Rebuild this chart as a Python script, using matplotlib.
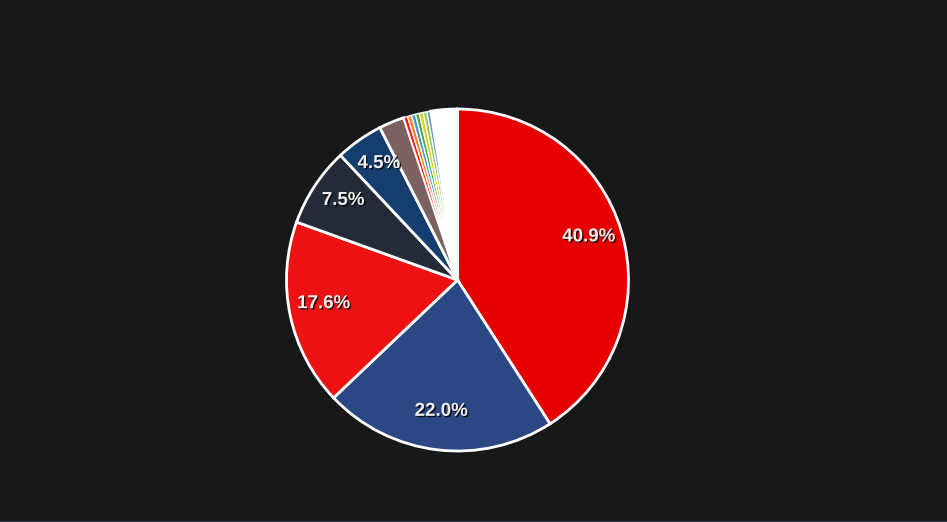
import matplotlib
matplotlib.use("Agg")
from matplotlib import pyplot as plt
from matplotlib import patheffects as pe
from matplotlib.lines import Line2D

# slice shares (%), clockwise from the top
shares = [40.9, 22.0, 17.6, 7.5, 4.5, 2.4, 0.38, 0.38, 0.38, 0.37, 0.37, 0.36, 0.36, 2.5]
colors = ['#e60000', '#2b4884', '#ee1111', '#242b38', '#153e6f', '#7b615f',
          '#ff1a1a', '#ff7f0e', '#4a90d9', '#3fae49', '#e8c81a', '#8fcf5a', '#5d8fdc', '#ffffff']

R_PX = 171


def pct_label(p):
    return f"{p:.1f}%" if p > 4 else ""


def main():
    fig = plt.figure(figsize=(9.47, 5.22), dpi=100, facecolor='#17181a')
    ax = fig.add_axes([(457.5 - R_PX) / 947, (242 - R_PX) / 522, 2 * R_PX / 947, 2 * R_PX / 522])
    ax.set_facecolor('#17181a')

    wedges, texts, autotexts = ax.pie(
        shares, colors=colors, startangle=90, counterclock=False,
        autopct=pct_label, pctdistance=0.8, radius=1.0,
        wedgeprops=dict(edgecolor='white', linewidth=2),
        textprops=dict(color='#f0f0f0', fontsize=13.5, fontweight='bold',
                       family=['Liberation Sans', 'DejaVu Sans']))
    for t in autotexts:
        x, y = t.get_position()
        t.set_position((x, y + 4.5 / R_PX))
        t.set_path_effects([pe.withSimplePatchShadow(offset=(1, -1), shadow_rgbFace='black', alpha=0.8)])
    for w, s in zip(wedges, shares):
        w.set_clip_on(False)
        if s < 1:
            w.set_linewidth(1)
    ax.set_xlim(-1, 1)
    ax.set_ylim(-1, 1)
    ax.set_aspect('equal')
    ax.axis('off')

    fig.add_artist(Line2D([0, 1], [0.5 / 522, 0.5 / 522], color='#3a4046', linewidth=1.5))
    plt.savefig("out.png", dpi=100, facecolor=fig.get_facecolor())


if __name__ == "__main__":
    main()
